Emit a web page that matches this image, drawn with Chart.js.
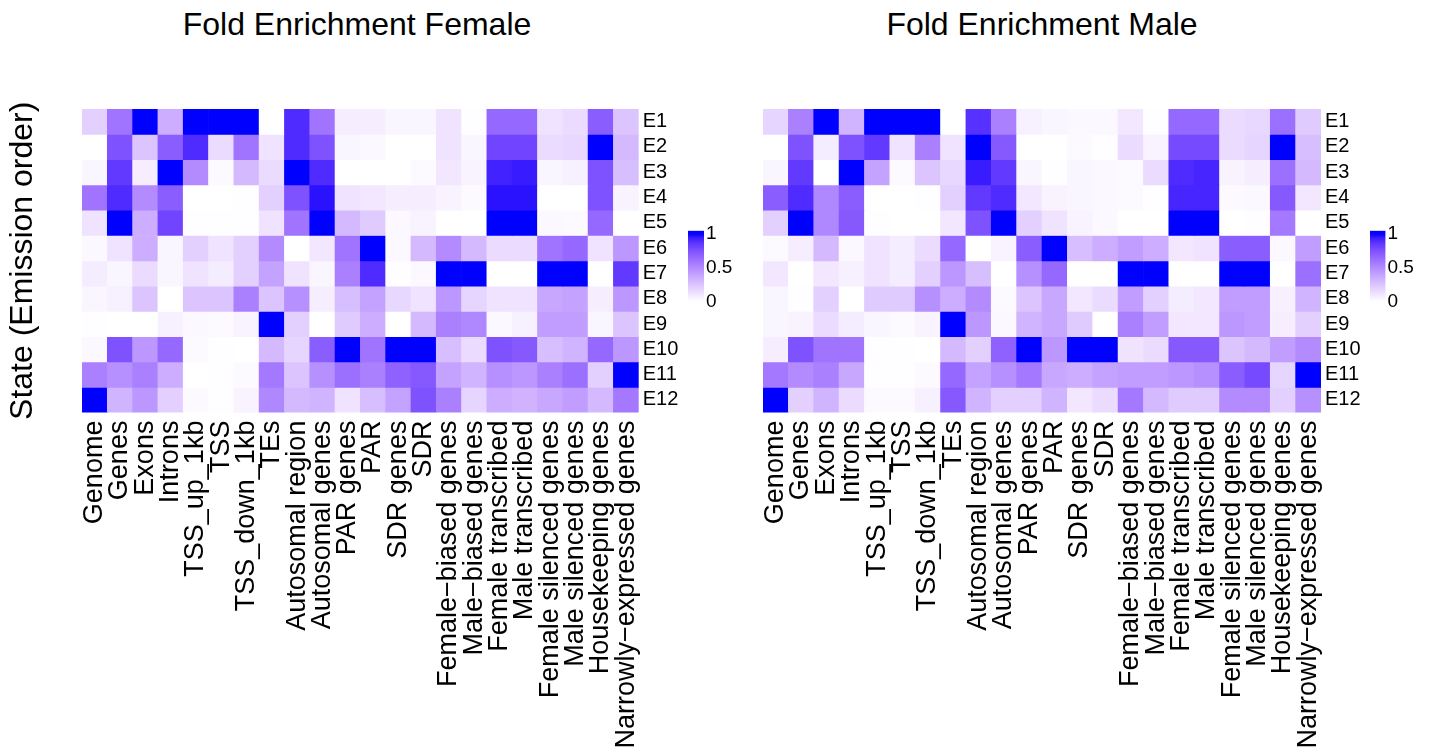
<!DOCTYPE html>
<html>
<head>
<meta charset="utf-8">
<script src="https://cdn.jsdelivr.net/npm/chart.js@4.4.1/dist/chart.umd.min.js"></script>
<style>
  html, body { margin: 0; padding: 0; background: #ffffff; }
  #wrap { position: relative; width: 1431px; height: 753px; overflow: hidden; background: #fff; }
  canvas { position: absolute; left: 0; top: 0; }
  .title { position: absolute; width: 600px; text-align: center; font-family: 'Liberation Sans', Arial, Helvetica, sans-serif; font-size: 32px; line-height: 32px; color: #000; top: 8px; white-space: nowrap; }
</style>
</head>
<body>
<div id="wrap">
  <div class="title" id="tF" style="left:57px;">Fold Enrichment Female</div>
  <div class="title" id="tM" style="left:742px;">Fold Enrichment Male</div>
  <canvas id="cF" width="1431" height="753"></canvas>
  <canvas id="cM" width="1431" height="753"></canvas>
  <canvas id="lF" width="1431" height="753"></canvas>
  <canvas id="lM" width="1431" height="753"></canvas>
</div>
<script>
// ---------- DATA ----------
const columns = ["Genome","Genes","Exons","Introns","TSS_up_1kb","TSS","TSS_down_1kb","TEs",
  "Autosomal region","Autosomal genes","PAR genes","PAR","SDR genes","SDR",
  "Female\u2212biased genes","Male\u2212biased genes","Female transcribed","Male transcribed",
  "Female silenced genes","Male silenced genes","Housekeeping genes","Narrowly\u2212expressed genes"];
const states = ["E1","E2","E3","E4","E5","E6","E7","E8","E9","E10","E11","E12"];
const legendTicks = [0, 0.5, 1];

// Female fold enrichment (scaled 0..1), one array per state
const femaleE1  = [0.2, 0.6, 1.0, 0.35, 1.0, 1.0, 1.0, 0, 0.9, 0.6, 0.07, 0.07, 0.04, 0.04, 0.12, 0.01, 0.65, 0.65, 0.12, 0.15, 0.7, 0.25];
const femaleE2  = [0, 0.75, 0.25, 0.7, 0.9, 0.15, 0.6, 0.12, 0.9, 0.75, 0.04, 0.03, 0, 0, 0.12, 0.04, 0.8, 0.8, 0.15, 0.17, 1.0, 0.3];
const femaleE3  = [0.04, 0.85, 0.07, 1.0, 0.5, 0.02, 0.3, 0.15, 1.0, 0.9, 0, 0, 0, 0.02, 0.1, 0.05, 0.93, 0.95, 0.04, 0.06, 0.75, 0.28];
const femaleE4  = [0.6, 0.9, 0.5, 0.7, 0, 0, 0.01, 0.2, 0.75, 0.97, 0.12, 0.1, 0.07, 0.07, 0.05, 0.02, 0.97, 0.97, 0, 0, 0.75, 0.05];
const femaleE5  = [0.12, 1.0, 0.35, 0.8, 0.01, 0.01, 0.01, 0.12, 0.6, 1.0, 0.3, 0.22, 0.03, 0.05, 0, 0, 1.0, 1.0, 0.03, 0.02, 0.65, 0];
const femaleE6  = [0.03, 0.12, 0.35, 0.04, 0.2, 0.12, 0.2, 0.5, 0, 0.1, 0.6, 1.0, 0.03, 0.3, 0.5, 0.3, 0.15, 0.15, 0.6, 0.65, 0.12, 0.45];
const femaleE7  = [0.08, 0.04, 0.15, 0.04, 0.12, 0.08, 0.2, 0.4, 0.12, 0.04, 0.55, 0.9, 0.01, 0.03, 1.0, 1.0, 0, 0, 1.0, 1.0, 0, 0.85];
const femaleE8  = [0.04, 0.06, 0.25, 0, 0.25, 0.25, 0.55, 0.25, 0.48, 0.07, 0.28, 0.4, 0.17, 0.12, 0.45, 0.18, 0.12, 0.12, 0.38, 0.4, 0.07, 0.45];
const femaleE9  = [0.01, 0, 0, 0.06, 0.03, 0.02, 0.05, 1.0, 0.2, 0, 0.22, 0.35, 0, 0.3, 0.55, 0.52, 0.03, 0.06, 0.42, 0.42, 0.04, 0.25];
const femaleE10 = [0.03, 0.75, 0.45, 0.65, 0.02, 0.01, 0, 0.3, 0.18, 0.7, 1.0, 0.6, 1.0, 1.0, 0.28, 0.15, 0.75, 0.72, 0.28, 0.32, 0.65, 0.45];
const femaleE11 = [0.55, 0.48, 0.55, 0.35, 0, 0.01, 0.02, 0.58, 0.25, 0.48, 0.62, 0.55, 0.68, 0.72, 0.4, 0.32, 0.48, 0.45, 0.55, 0.62, 0.2, 1.0];
const femaleE12 = [1.0, 0.32, 0.45, 0.2, 0.02, 0.01, 0.05, 0.52, 0.3, 0.32, 0.12, 0.28, 0.4, 0.75, 0.55, 0.18, 0.35, 0.33, 0.38, 0.42, 0.3, 0.58];

// Male fold enrichment (scaled 0..1), one array per state
const maleE1  = [0.18, 0.55, 1.0, 0.32, 1.0, 1.0, 1.0, 0, 0.88, 0.55, 0.06, 0.04, 0.03, 0.03, 0.1, 0.01, 0.65, 0.65, 0.15, 0.17, 0.62, 0.22];
const maleE2  = [0, 0.75, 0.08, 0.75, 0.85, 0.12, 0.55, 0.12, 1.0, 0.72, 0, 0, 0.02, 0.01, 0.15, 0.05, 0.78, 0.78, 0.15, 0.18, 1.0, 0.28];
const maleE3  = [0.04, 0.85, 0, 1.0, 0.4, 0.02, 0.25, 0.17, 0.95, 0.85, 0.04, 0.01, 0.04, 0.03, 0.02, 0.15, 0.9, 0.92, 0.05, 0.07, 0.62, 0.3];
const maleE4  = [0.7, 0.9, 0.52, 0.7, 0, 0, 0.01, 0.2, 0.85, 0.9, 0.1, 0.05, 0.04, 0.03, 0.02, 0.01, 0.92, 0.92, 0.02, 0.03, 0.72, 0.1];
const maleE5  = [0.2, 1.0, 0.52, 0.72, 0.01, 0, 0, 0.1, 0.75, 1.0, 0.2, 0.12, 0.05, 0.03, 0, 0, 1.0, 1.0, 0, 0.01, 0.58, 0];
const maleE6  = [0.02, 0.07, 0.3, 0.03, 0.12, 0.08, 0.15, 0.65, 0, 0.05, 0.7, 1.0, 0.28, 0.35, 0.42, 0.35, 0.1, 0.12, 0.7, 0.7, 0.03, 0.42];
const maleE7  = [0.1, 0, 0.1, 0.06, 0.12, 0.08, 0.2, 0.45, 0.28, 0, 0.48, 0.65, 0, 0, 1.0, 1.0, 0, 0, 1.0, 1.0, 0, 0.62];
const maleE8  = [0.04, 0.01, 0.2, 0, 0.22, 0.22, 0.48, 0.35, 0.5, 0.02, 0.25, 0.38, 0.1, 0.15, 0.42, 0.2, 0.08, 0.1, 0.42, 0.42, 0.06, 0.32];
const maleE9  = [0.04, 0.05, 0.15, 0.08, 0.04, 0.02, 0.05, 1.0, 0.45, 0.03, 0.32, 0.38, 0.22, 0, 0.55, 0.42, 0.1, 0.1, 0.45, 0.42, 0.07, 0.2];
const maleE10 = [0.07, 0.75, 0.6, 0.6, 0.01, 0.01, 0, 0.3, 0.2, 0.68, 1.0, 0.45, 1.0, 1.0, 0.12, 0.15, 0.72, 0.72, 0.25, 0.3, 0.42, 0.5];
const maleE11 = [0.58, 0.5, 0.55, 0.38, 0.01, 0.01, 0.02, 0.65, 0.4, 0.48, 0.58, 0.38, 0.35, 0.4, 0.42, 0.42, 0.45, 0.48, 0.7, 0.78, 0.18, 1.0];
const maleE12 = [1.0, 0.2, 0.32, 0.15, 0.02, 0.02, 0.06, 0.72, 0.32, 0.2, 0.2, 0.32, 0.1, 0.15, 0.58, 0.3, 0.22, 0.22, 0.5, 0.5, 0.2, 0.48];

const femaleRows = [femaleE1, femaleE2, femaleE3, femaleE4, femaleE5, femaleE6, femaleE7, femaleE8, femaleE9, femaleE10, femaleE11, femaleE12];
const maleRows = [maleE1, maleE2, maleE3, maleE4, maleE5, maleE6, maleE7, maleE8, maleE9, maleE10, maleE11, maleE12];

// ---------- COLOUR (white -> blue, interpolated in CIE Lab) ----------
function toLin(c){ c/=255; return c<=0.04045 ? c/12.92 : Math.pow((c+0.055)/1.055, 2.4); }
function fromLin(c){ const v = c<=0.0031308 ? 12.92*c : 1.055*Math.pow(c,1/2.4)-0.055; return Math.max(0, Math.min(255, Math.round(v*255))); }
const Xn=0.95047, Yn=1.0, Zn=1.08883;
function f(t){ return t>0.008856 ? Math.cbrt(t) : 7.787*t+16/116; }
function finv(t){ return t>0.206893 ? t*t*t : (t-16/116)/7.787; }
function rgb2lab(r,g,b){
  const R=toLin(r),G=toLin(g),B=toLin(b);
  const X=0.4124564*R+0.3575761*G+0.1804375*B;
  const Y=0.2126729*R+0.7151522*G+0.0721750*B;
  const Z=0.0193339*R+0.1191920*G+0.9503041*B;
  const fx=f(X/Xn), fy=f(Y/Yn), fz=f(Z/Zn);
  return [116*fy-16, 500*(fx-fy), 200*(fy-fz)];
}
function lab2rgb(L,a,b){
  const fy=(L+16)/116, fx=fy+a/500, fz=fy-b/200;
  const X=Xn*finv(fx), Y=Yn*finv(fy), Z=Zn*finv(fz);
  const R= 3.2404542*X-1.5371385*Y-0.4985314*Z;
  const G=-0.9692660*X+1.8760108*Y+0.0415560*Z;
  const B= 0.0556434*X-0.2040259*Y+1.0572252*Z;
  return [fromLin(R),fromLin(G),fromLin(B)];
}
const labLow = rgb2lab(255,255,255), labHigh = rgb2lab(0,0,255);
function valueColor(v){
  v = Math.max(0, Math.min(1, v));
  const L = labLow[0]+(labHigh[0]-labLow[0])*v;
  const a = labLow[1]+(labHigh[1]-labLow[1])*v;
  const b = labLow[2]+(labHigh[2]-labLow[2])*v;
  const c = lab2rgb(L,a,b);
  return `rgb(${c[0]},${c[1]},${c[2]})`;
}

// ---------- CHARTS ----------
const FONT = "'Liberation Sans', Arial, Helvetica, sans-serif";
Chart.defaults.font.family = FONT;
Chart.defaults.color = '#000';
Chart.defaults.devicePixelRatio = 1;

const W = 1431, H = 753;
const plotTop = 109, plotBottom = 412.6;
const LABW = 60;

function makeHeatmap(id, rows, left, right, showYTitle){
  const datasets = rows.map((row, i) => ({
    label: states[i],
    data: row.map(() => 1),
    backgroundColor: row.map(v => valueColor(v)),
    borderWidth: 0,
    stack: 's',
    categoryPercentage: 1,
    barPercentage: 1
  }));
  return new Chart(document.getElementById(id), {
    type: 'bar',
    data: { labels: columns, datasets },
    options: {
      responsive: false,
      animation: false,
      events: [],
      layout: { padding: { left: 0, top: plotTop, right: W - right - LABW, bottom: 0 } },
      plugins: { legend: { display: false }, tooltip: { enabled: false }, title: { display: false } },
      scales: {
        x: {
          type: 'category', stacked: true, offset: true,
          grid: { display: false, drawTicks: false }, border: { display: false },
          ticks: { autoSkip: false, minRotation: 90, maxRotation: 90, padding: 8, color: '#000', font: { size: 27, family: FONT } },
          afterFit: s => { s.height = H - plotBottom; }
        },
        y: {
          stacked: true, min: 0, max: states.length, reverse: true,
          grid: { display: false, drawTicks: false }, border: { display: false },
          ticks: { display: false },
          title: { display: showYTitle, text: 'State (Emission order)', color: '#000', font: { size: 32, family: FONT }, padding: 4 },
          afterFit: s => { s.width = left; }
        },
        yLab: {
          type: 'category', labels: states, position: 'right', offset: true,
          grid: { display: false, drawTicks: false }, border: { display: false },
          ticks: { autoSkip: false, padding: 4, color: '#000', font: { size: 20, family: FONT } },
          afterFit: s => { s.width = LABW; }
        }
      }
    }
  });
}

function makeLegend(id, left, right, top, bottom){
  const lo = -0.05, hi = 1.05;
  return new Chart(document.getElementById(id), {
    type: 'bar',
    data: { labels: [''], datasets: [{
      data: [[lo, hi]],
      borderWidth: 0, categoryPercentage: 1, barPercentage: 1,
      backgroundColor: (ctx) => {
        const ca = ctx.chart.chartArea;
        if (!ca) return 'rgba(0,0,0,0)';
        const g = ctx.chart.ctx.createLinearGradient(0, ca.bottom, 0, ca.top);
        for (let i = 0; i <= 20; i++) {
          const v = lo + (hi - lo) * i / 20;
          g.addColorStop(i / 20, valueColor(v));
        }
        return g;
      }
    }]},
    options: {
      responsive: false, animation: false, events: [],
      layout: { padding: { left: left, right: W - right - 40, top: top, bottom: H - bottom } },
      plugins: { legend: { display: false }, tooltip: { enabled: false } },
      scales: {
        x: { display: false, offset: true },
        y: {
          position: 'right', min: lo, max: hi,
          grid: { display: true, drawOnChartArea: false, drawTicks: true, tickLength: -4, color: '#ffffff', lineWidth: 1 },
          border: { display: false },
          afterBuildTicks: s => { s.ticks = legendTicks.map(v => ({ value: v })); },
          ticks: { padding: 6, color: '#000', font: { size: 19, family: FONT }, callback: v => String(v) },
          afterFit: s => { s.width = 40; }
        }
      }
    }
  });
}

makeHeatmap('cF', femaleRows, 82, 638.7, true);
makeHeatmap('cM', maleRows, 763, 1321, false);
makeLegend('lF', 688, 704, 230.7, 305);
makeLegend('lM', 1370, 1385.5, 230.7, 305);
</script>
</body>
</html>
